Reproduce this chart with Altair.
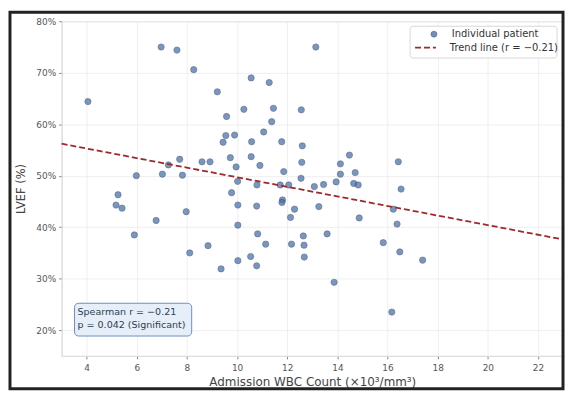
import altair as alt
import pandas as pd

# Admission WBC count (x10^3/mm^3) and LVEF (%) per patient
wbc = [4.05, 6.97, 7.60, 8.27, 9.21, 10.56, 11.28, 13.14, 10.27, 11.45,
       12.56, 9.58, 11.38, 11.06, 9.55, 9.90, 9.44, 10.58, 11.78, 12.60,
       14.48, 8.60, 8.92, 9.73, 9.96, 10.56, 10.91, 12.58, 14.12, 14.71,
       11.86, 12.55, 14.12, 10.02, 10.79, 11.72, 12.06, 13.08, 13.45, 13.95,
       14.65, 14.83, 9.78, 11.81, 16.43, 16.54, 5.98, 7.02, 7.26, 7.71,
       7.82, 5.25, 5.17, 5.41, 6.77, 5.90, 7.97, 8.11, 10.03, 10.78,
       11.79, 12.29, 12.13, 10.03, 10.82, 12.64, 8.84, 11.14, 12.17, 12.67,
       10.54, 10.03, 10.78, 9.36, 12.68, 13.26, 14.87, 13.59, 15.83, 13.87,
       16.23, 16.38, 16.49, 17.40, 16.17]
lvef = [64.4, 75.0, 74.4, 70.6, 66.3, 69.0, 68.1, 75.0, 62.9, 63.1,
        62.8, 61.5, 60.5, 58.5, 57.8, 57.9, 56.5, 56.6, 56.6, 55.8,
        54.0, 52.7, 52.7, 53.5, 51.7, 53.7, 52.0, 52.6, 52.3, 50.6,
        50.8, 49.5, 50.3, 48.9, 48.2, 48.2, 48.2, 47.9, 48.3, 48.8,
        48.5, 48.2, 46.7, 45.3, 52.7, 47.4, 50.0, 50.3, 52.1, 53.2,
        50.1, 46.3, 44.3, 43.7, 41.3, 38.5, 43.0, 35.0, 44.3, 44.1,
        44.8, 43.5, 41.9, 40.4, 38.7, 38.3, 36.4, 36.7, 36.7, 36.5,
        34.3, 33.5, 32.5, 31.9, 34.2, 44.0, 41.8, 38.7, 37.0, 29.3,
        43.5, 40.6, 35.2, 33.6, 23.5]

trend_x = [3, 23]
trend_slope = -0.93
trend_intercept = 59.0

x_ticks = [4, 6, 8, 10, 12, 14, 16, 18, 20, 22]
y_ticks = [20, 30, 40, 50, 60, 70, 80]

point_label = "Individual patient"
line_label = "Trend line (r = \u22120.21)"
annot_lines = ["Spearman r = \u22120.21", "p = 0.042 (Significant)"]

FONT = "DejaVu Sans"
PT_FILL = "#4c72b0"
PT_EDGE = "#2c3e50"
LINE_COL = "#a0282a"

pts = pd.DataFrame({"wbc": wbc, "lvef": lvef, "series": point_label})
trend = pd.DataFrame({"wbc": trend_x})
trend["lvef"] = trend_intercept + trend_slope * trend["wbc"]
trend["series"] = line_label

xscale = alt.Scale(domain=[3, 23], nice=False, zero=False)
yscale = alt.Scale(domain=[15, 80], nice=False, zero=False)

xaxis = alt.Axis(values=x_ticks, title="Admission WBC Count (\u00d710\u00b3/mm\u00b3)",
                 labelPadding=5, titlePadding=4, titleFontSize=12)
yaxis = alt.Axis(values=y_ticks, title="LVEF (%)", labelExpr="datum.value + '%'",
                 titlePadding=9, titleFontSize=11.5)

leg_common = dict(title=None, orient="none", padding=0,
                  labelFont=FONT, labelFontSize=10, labelColor="#333333")

points = alt.Chart(pts).mark_point(
    filled=True, size=40, opacity=0.75, stroke=PT_EDGE, strokeWidth=0.6
).encode(
    x=alt.X("wbc:Q", scale=xscale, axis=xaxis),
    y=alt.Y("lvef:Q", scale=yscale, axis=yaxis),
    color=alt.Color("series:N", scale=alt.Scale(domain=[point_label], range=[PT_FILL]),
                    legend=alt.Legend(legendX=370, legendY=8, symbolType="circle",
                                      symbolSize=36, symbolStrokeColor=PT_EDGE,
                                      symbolStrokeWidth=0.6, symbolOpacity=0.8,
                                      labelOffset=13, **leg_common)),
)

line = alt.Chart(trend).mark_line(strokeWidth=1.8, color=LINE_COL).encode(
    x="wbc:Q", y="lvef:Q",
    strokeDash=alt.StrokeDash("series:N",
                              scale=alt.Scale(domain=[line_label], range=[[6, 3]]),
                              legend=alt.Legend(legendX=355, legendY=15, symbolType="stroke",
                                                symbolSize=441, symbolStrokeColor=LINE_COL,
                                                symbolStrokeWidth=1.8, labelOffset=13,
                                                **leg_common)),
)

one = pd.DataFrame({"a": [0]})
legend_box = alt.Chart(one).mark_rect(
    fill="white", stroke="#cccccc", strokeWidth=0.8, cornerRadius=3
).encode(x=alt.value(351), x2=alt.value(499), y=alt.value(5), y2=alt.value(37))

annot_box = alt.Chart(one).mark_rect(
    fill="#e6eef9", stroke="#6f8fb8", strokeWidth=1, cornerRadius=4
).encode(x=alt.value(13), x2=alt.value(131), y=alt.value(284), y2=alt.value(317))

annot1 = alt.Chart(pd.DataFrame({"t": [annot_lines[0]]})).mark_text(
    align="left", baseline="middle", font=FONT, fontSize=9.6, color="#2c3e50"
).encode(text="t:N", x=alt.value(16), y=alt.value(293))
annot2 = alt.Chart(pd.DataFrame({"t": [annot_lines[1]]})).mark_text(
    align="left", baseline="middle", font=FONT, fontSize=9.6, color="#2c3e50"
).encode(text="t:N", x=alt.value(16), y=alt.value(305.5))

frame = alt.Chart(one).mark_rect(
    fill="transparent", stroke="#222222", strokeWidth=3
).encode(x=alt.value(-52), x2=alt.value(505), y=alt.value(-9), y2=alt.value(370))

chart = alt.layer(legend_box, points, line, annot_box, annot1, annot2, frame).resolve_scale(
    color="independent", strokeDash="independent"
).properties(
    width=505, height=337,
    autosize=alt.AutoSizeParams(type="none"),
    padding={"left": 54, "top": 12, "right": 2, "bottom": 34},
    background="white",
).configure_view(stroke="#dddddd").configure_axis(
    labelFont=FONT, labelFontSize=9, labelColor="#555555",
    titleFont=FONT, titleColor="#444444", titleFontWeight="normal",
    gridColor="#ebebeb", gridWidth=0.8, domainColor="#dddddd",
    tickColor="#888888", tickSize=3, labelPadding=3,
)

chart.save("out.html", embed_options={"renderer": "svg", "actions": False})
